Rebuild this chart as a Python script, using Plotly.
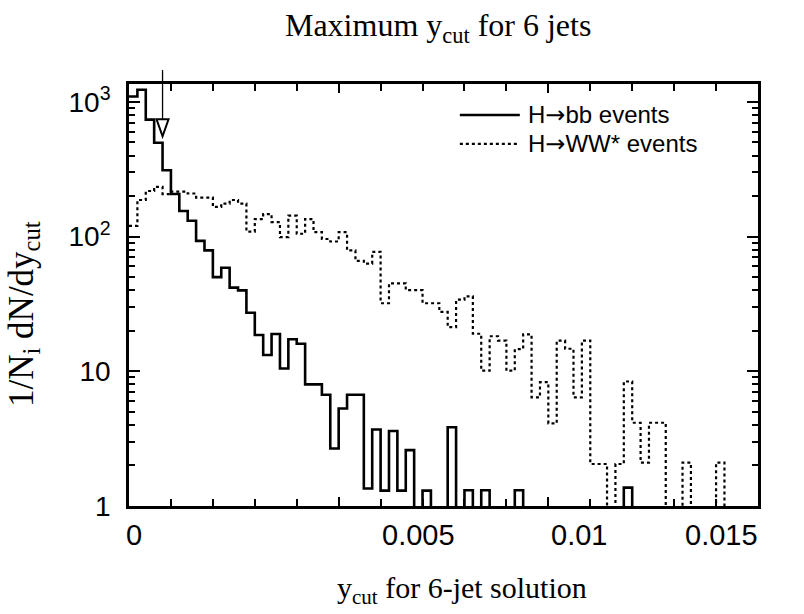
import numpy as np
import plotly.graph_objects as go

# ---------------- data ----------------
bin_width = 0.0002          # width of one y_cut bin
n_bins = 75

hbb_values = [1098, 1232, 739, 497, 311, 207, 155, 131, 93, 79,
              50, 58.7, 41.8, 39.9, 27.2, 18.6, 13.2, 18.9, 10.5, 17.3,
              16, 8.0, 8.0, 6.7, 2.67, 5.3, 6.7, 6.7, 1.35, 3.7,
              1.3, 3.6, 1.3, 2.6, 0, 1.3, 0, 0, 3.84, 0,
              1.31, 0, 1.31, 0, 0, 0, 1.31, 0, 0, 0,
              0, 0, 0, 0, 0, 0, 0, 0, 0, 1.37,
              0, 0, 0, 0, 0, 0, 0, 0, 0, 0,
              0, 0, 0, 0, 0]

hww_values = [120, 187, 218, 234, 207, 216, 216, 209, 195, 195,
              166, 176, 187, 176, 109, 135, 147, 128, 99, 143,
              105, 135, 108, 96, 92, 108, 79, 66, 63, 77,
              32, 45, 45, 40, 40, 32, 32, 27.6, 21.3, 34,
              36, 19, 10.1, 18.2, 16.9, 10.1, 14.6, 18.8, 6.4, 8.3,
              4.1, 16.9, 14.7, 6.4, 16.9, 2.05, 2.05, 0, 2.05, 8.4,
              4.15, 2.1, 4.15, 4.15, 0, 0, 2.1, 0, 0, 0,
              2.1, 0, 0, 0, 0]

series_names = ["H\u2192bb events", "H\u2192WW* events"]

x_tick_values = [0, 0.005, 0.01, 0.015]
x_tick_labels = ["0", "0.005", "0.01", "0.015"]
y_tick_values = [1, 10, 100, 1000]
y_tick_labels = ["1", "10", "10<sup>2</sup>", "10<sup>3</sup>"]
y_minor_values = [m * d for d in (1, 10, 100) for m in range(2, 10)]

cut_position = 0.0008      # arrow marking the chosen y_cut
cut_arrow_tip = 556        # level where the arrow head ends

# ---------------- figure ----------------
x_range = [0, 0.015]
y_log_range = [0, 3.133]

edges = np.arange(n_bins + 1) * bin_width


def step_y(vals):
    v = np.array(vals, dtype=float)
    v = np.where(v > 0, v, 0.5)   # empty bins drop below the axis
    return np.append(v, v[-1])


fig = go.Figure()
fig.add_trace(go.Scatter(x=edges, y=step_y(hbb_values), mode="lines",
                         line=dict(color="black", width=2.6, shape="hv"),
                         name=series_names[0]))
fig.add_trace(go.Scatter(x=edges, y=step_y(hww_values), mode="lines",
                         line=dict(color="black", width=2.2, shape="hv",
                                   dash="3px,3px"),
                         name=series_names[1]))

serif = "Liberation Serif, Times New Roman, serif"
sans = "Liberation Sans, Arial, Helvetica, sans-serif"
arrow_font = "DejaVu Sans"

fig.update_layout(
    width=804, height=614,
    margin=dict(l=129, r=46, t=84, b=108),
    paper_bgcolor="white", plot_bgcolor="white",
    showlegend=False,
    font=dict(family=sans, color="black"),
    title=dict(text="Maximum y<sub>cut</sub> for 6 jets",
               font=dict(family=serif, size=32, color="black"),
               x=0.545, xanchor="center", xref="container",
               y=0.978, yanchor="top", yref="container"),
)

fig.update_xaxes(
    range=x_range, showgrid=False, zeroline=False,
    showline=True, linewidth=2.6, linecolor="black", mirror="ticks",
    ticks="inside", ticklen=9, tickwidth=1.6, tickcolor="black",
    tickvals=x_tick_values, showticklabels=False,
    minor=dict(dtick=0.001, tick0=0, ticks="inside", ticklen=7,
               tickwidth=1.6, tickcolor="black", showgrid=False),
)

fig.update_yaxes(
    type="log", range=y_log_range, showgrid=False, zeroline=False,
    showline=True, linewidth=2.6, linecolor="black", mirror="ticks",
    ticks="inside", ticklen=11, tickwidth=1.6, tickcolor="black",
    tickvals=y_tick_values, ticktext=y_tick_labels,
    tickfont=dict(family=sans, size=28, color="black"),
    ticklabelstandoff=10,
    minor=dict(tickvals=y_minor_values, ticks="inside", ticklen=6,
               tickwidth=1.6, tickcolor="black", showgrid=False),
)

# x tick labels, placed as they sit in the reference artwork
label_anchor = ["center", "center", "center", "right"]
label_shift = [5, 80, 31, 2]
for val, lab, anc, sh in zip(x_tick_values, x_tick_labels, label_anchor, label_shift):
    fig.add_annotation(text=lab, x=val, xref="x", y=-0.068, yref="paper",
                       xanchor=anc, yanchor="middle", xshift=sh,
                       showarrow=False,
                       font=dict(family=sans, size=29, color="black"))

# x-axis title
fig.add_annotation(text="y<sub>cut</sub> for 6-jet solution",
                   xref="paper", yref="paper", x=0.53, y=-0.2,
                   xanchor="center", yanchor="middle", showarrow=False,
                   font=dict(family=serif, size=30, color="black"))

# y-axis title (placed as in the reference, slightly below centre)
fig.add_annotation(text="1/N<sub>i</sub> dN/dy<sub>cut</sub>",
                   xref="paper", yref="paper", x=-0.167, y=0.455,
                   xanchor="center", yanchor="middle", textangle=-90,
                   showarrow=False,
                   font=dict(family=serif, size=35, color="black"))

# arrow marking the cut
def to_paper_y(value):
    return (np.log10(value) - y_log_range[0]) / (y_log_range[1] - y_log_range[0])

tip = to_paper_y(cut_arrow_tip)
head_top = tip + 17 / 422.0
half_w = 6.0 / 629.0 * (x_range[1] - x_range[0])
fig.add_shape(type="line", xref="x", yref="paper",
              x0=cut_position, x1=cut_position, y0=head_top, y1=1.033,
              line=dict(color="black", width=1.3))
fig.add_shape(type="path", xref="x", yref="paper",
              path=f"M {cut_position - half_w},{head_top} L {cut_position + half_w},{head_top} "
                   f"L {cut_position},{tip} Z",
              line=dict(color="black", width=2), fillcolor="rgba(0,0,0,0)")

# legend drawn as line samples + text
leg_x0, leg_x1, leg_tx = 0.00789, 0.00932, 0.00946
leg_y = [0.9266, 0.858]
for i, name in enumerate(series_names):
    fig.add_shape(type="line", xref="x", yref="paper",
                  x0=leg_x0, x1=leg_x1, y0=leg_y[i], y1=leg_y[i],
                  line=dict(color="black", width=2.6 if i == 0 else 2.2,
                            dash="solid" if i == 0 else "3px,3px"))
    head, tail = name.split("\u2192")
    label = (f"{head}<span style='font-family:{arrow_font}'>\u2192</span>{tail}")
    fig.add_annotation(x=leg_tx, y=leg_y[i], xref="x", yref="paper",
                       text=label, showarrow=False, xanchor="left",
                       yanchor="middle",
                       font=dict(family=sans, size=24, color="black"))

fig.write_html("out.html")
